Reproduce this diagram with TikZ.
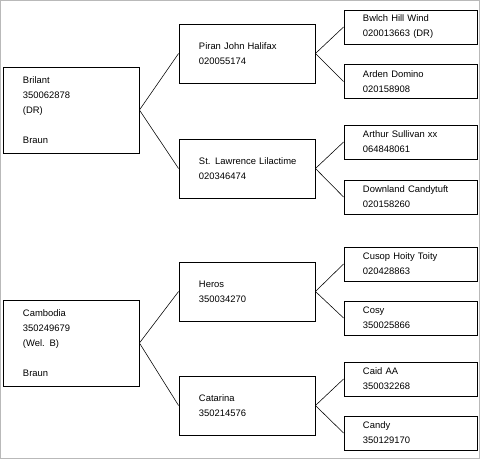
\documentclass[tikz,border=0pt]{standalone}
\usepackage{fontspec}
\setmainfont{Liberation Sans}
\usepackage{tikz}
\usetikzlibrary{positioning}

\begin{document}
\begin{tikzpicture}[x=0.025cm, y=-0.025cm,
  font=\fontsize{6.7}{10.7}\selectfont,
  horse/.style={draw, line width=0.6pt, align=left, anchor=center,
    inner xsep=0.5cm, inner ysep=0pt, text width=2.4cm},
  gen1/.style={horse, minimum height=86*0.025cm},
  gen2/.style={horse, minimum height=59*0.025cm},
  gen3/.style={horse, minimum height=34*0.025cm, text width=2.375cm, inner xsep=0.475cm},
  link/.style={line width=0.4pt}]
  % rahmen (1 einheit = 1 px)
  \useasboundingbox (0,0) rectangle (480,459);
  \draw[gray!55, line width=1.2pt] (0.5,0.5) rectangle (479.5,458.5);
  % erste generation
  \node[gen1] (brilant)  at (71,110) {Brilant\\350062878\\(DR)\\\mbox{}\\Braun};
  \node[gen1] (cambodia) at (71,343) {Cambodia\\350249679\\(Wel. B)\\\mbox{}\\Braun};
  % zweite generation
  \node[gen2] (piran)    at (247,53.5)  {Piran John Halifax\\020055174};
  \node[gen2] (lawrence) at (247,168.5) {\mbox{St. Lawrence Lilactime}\\020346474};
  \node[gen2] (heros)    at (247,291.5) {Heros\\350034270};
  \node[gen2] (catarina) at (247,405.5) {Catarina\\350214576};
  % dritte generation
  \node[gen3] (bwlch)    at (410.5,27)  {Bwlch Hill Wind\\020013663 (DR)};
  \node[gen3] (arden)    at (410.5,81.5) {Arden Domino\\020158908};
  \node[gen3] (arthur)   at (410.5,142) {Arthur Sullivan xx\\064848061};
  \node[gen3] (downland) at (410.5,197) {Downland Candytuft\\020158260};
  \node[gen3] (cusop)    at (410.5,264) {Cusop Hoity Toity\\020428863};
  \node[gen3] (cosy)     at (410.5,318) {Cosy\\350025866};
  \node[gen3] (caid)     at (410.5,379) {Caid AA\\350032268};
  \node[gen3] (candy)    at (410.5,433) {Candy\\350129170};
  % verbindungen
  \foreach \p/\a/\b in {brilant/piran/lawrence, cambodia/heros/catarina,
      piran/bwlch/arden, lawrence/arthur/downland,
      heros/cusop/cosy, catarina/caid/candy}{
    \draw[link] (\p.east) -- (\a.west);
    \draw[link] (\p.east) -- (\b.west);
  }
\end{tikzpicture}
\end{document}
